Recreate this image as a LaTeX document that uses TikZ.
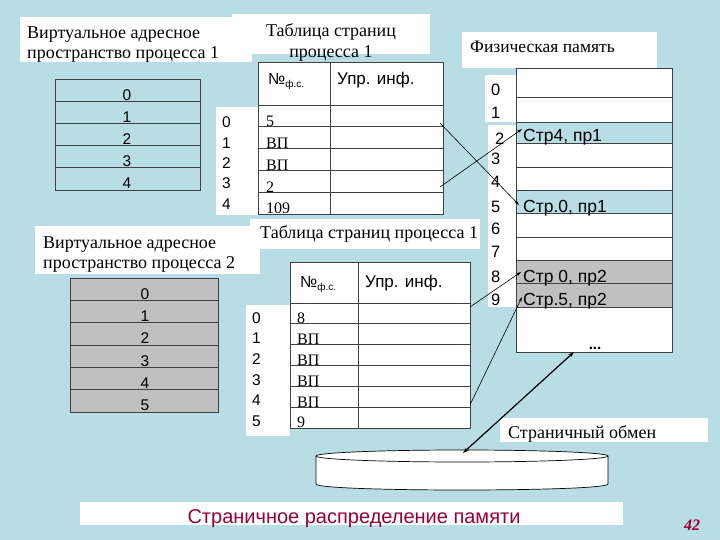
\documentclass[tikz,border=0pt]{standalone}
\usepackage{fontspec}
\setmainfont{Liberation Serif}
\setsansfont{Liberation Sans}
\usetikzlibrary{arrows.meta}
\definecolor{fon}{RGB}{185,221,228}
\definecolor{seryj}{RGB}{192,192,192}
\definecolor{bordo}{RGB}{153,0,51}
\newcommand{\nfs}{№{\fontsize{10}{11}\selectfont\raisebox{-3pt}{ф.с.}}}
\tikzset{
  belyj/.style={fill=white},
  setka/.style={draw=black!75,line width=0.7pt},
  tekst/.style={inner sep=0pt,anchor=base west,font=\fontsize{18}{20}\selectfont},
  cifra/.style={inner sep=0pt,anchor=base,font=\sffamily\fontsize{15.5}{17}\selectfont},
  shapka/.style={inner sep=0pt,anchor=base west,font=\sffamily\fontsize{17}{19}\selectfont},
  zapis/.style={inner sep=0pt,anchor=base west,font=\fontsize{16}{18}\selectfont},
  strelka/.style={-{Stealth[length=5pt,width=3pt]},line width=0.6pt},
  obmen/.style={{Stealth[length=6pt,width=4pt]}-{Stealth[length=6pt,width=4pt]},line width=1.2pt}
}
\begin{document}
\begin{tikzpicture}[x=1pt,y=-1pt]
\useasboundingbox (0,0) rectangle (720,540);
\fill[fon] (0,0) rectangle (720,540); %фон
% белые подложки надписей
\fill[belyj] (20,17) rectangle (252,62);
\fill[belyj] (232,14) rectangle (430,54);
\fill[belyj] (216,107) rectangle (258,215);
\fill[belyj] (462,32) rectangle (657,68);
\fill[belyj] (485,75) rectangle (517,122);
\fill[belyj] (488,125) rectangle (517,307);
\fill[belyj] (35,226) rectangle (260,274);
\fill[belyj] (250,219) rectangle (480,249);
\fill[belyj] (246,305) rectangle (290,436);
\fill[belyj] (500,418) rectangle (708,442);
\fill[belyj] (80,502) rectangle (623,525);
% виртуальное пространство процесса 1
\node[tekst] (va1a) at (27,39) {Виртуальное адресное};
\node[tekst] (va1b) at (27,59) {пространство процесса 1};
\foreach \i in {0,...,4} {
  \draw[setka] (55,{79+22.2*\i}) rectangle (200,{101.2+22.2*\i});
  \node[cifra] (v1-\i) at (127,{100.2+22.2*\i}) {\i};
}
% таблица страниц процесса 1
\node[tekst,anchor=base] (tp1a) at (331,37) {Таблица страниц};
\node[tekst,anchor=base] (tp1b) at (331,58) {процесса 1};
\draw[setka,fill=white] (258,62) rectangle (443,214);
\draw[setka] (330,62) -- (330,214);
\node[shapka,font=\sffamily\fontsize{16}{18}\selectfont] (h1a) at (268,85) {\nfs};
\node[shapka] (h1b) at (337,85) {Упр. инф.};
\foreach \v [count=\i from 0] in {5,ВП,ВП,2,109} {
  \draw[setka] (258,{105+21.8*\i}) -- (443,{105+21.8*\i});
  \node[zapis] (t1-\i) at (266,{126.8+21.8*\i}) {\v};
  \node[cifra,anchor=base west] (n1-\i) at (222,{128+20.3*\i}) {\i};
}
% физическая память
\node[tekst,font=\fontsize{17.5}{19}\selectfont] (fp) at (470,53) {Физическая память};
\draw[setka,fill=white] (516,68) rectangle (672,352);
\fill[fon] (516,122) rectangle (672,143);
\fill[fon] (516,190) rectangle (672,213);
\fill[seryj] (516,260) rectangle (672,307);
\foreach \y in {97,122,143,167,190,213,237,260,283,307}
  \draw[setka] (516,\y) -- (672,\y);
\draw[setka] (516,68) rectangle (672,352);
\foreach \i/\x/\y in {0/491/96,1/491/119,2/495/145,3/491/165,4/491/188,5/491/212,6/491/235,7/491/258,8/491/282,9/491/305}
  \node[cifra,anchor=base west,font=\sffamily\fontsize{16.5}{18}\selectfont] (f-\i) at (\x,\y) {\i};
\foreach \t/\y/\n in {Стр4{,} пр1/142/s2,Стр.0{,} пр1/212/s5,Стр 0{,} пр2/282/s8,Стр.5{,} пр2/305/s9}
  \node[shapka,font=\sffamily\fontsize{17.5}{19}\selectfont] (\n) at (523,\y) {\t};
\node[cifra,font=\sffamily\bfseries\fontsize{15}{17}\selectfont] (dots) at (595,349) {...};
% виртуальное пространство процесса 2
\node[tekst] (va2a) at (43,248) {Виртуальное адресное};
\node[tekst] (va2b) at (43,268) {пространство процесса 2};
\foreach \i in {0,...,5} {
  \draw[setka,fill=seryj] (70,{278+22.33*\i}) rectangle (218,{300.33+22.33*\i});
  \node[cifra] (v2-\i) at (145,{299.3+22.33*\i}) {\i};
}
% таблица страниц процесса 2
\node[tekst] (tp2) at (260,238) {Таблица страниц процесса 1};
\draw[setka,fill=white] (290,262) rectangle (470,428);
\draw[setka] (358,262) -- (358,428);
\node[shapka,font=\sffamily\fontsize{16}{18}\selectfont] (h2a) at (300,287) {\nfs};
\node[shapka] (h2b) at (365,287) {Упр. инф.};
\foreach \v [count=\i from 0] in {8,ВП,ВП,ВП,ВП,9} {
  \draw[setka] (290,{303+20.83*\i}) -- (470,{303+20.83*\i});
  \node[zapis] (t2-\i) at (297,{323.8+20.83*\i}) {\v};
  \node[cifra,anchor=base west] (n2-\i) at (252,{323+20.7*\i}) {\i};
}
% диск
\draw[line width=0.7pt,fill=white] (316,456) -- (316,484) .. controls (316,492) and (608,492) .. (608,484) -- (608,456);
\draw[line width=0.7pt,fill=white] (462,456) ellipse [x radius=146,y radius=6];
\node[tekst] (so) at (508,438) {Страничный обмен};
% подпись слайда
\node[cifra,font=\sffamily\fontsize{20}{22}\selectfont,text=bordo] (zag) at (354,523) {Страничное распределение памяти};
\node[cifra,anchor=base west,font=\bfseries\itshape\fontsize{16}{18}\selectfont,text=bordo] (nom) at (684,530) {42};
% стрелки
\coordinate (a0) at (440,123);
\coordinate (a3) at (440,187);
\coordinate (b0) at (470,307);
\coordinate (b5) at (470,405);
\coordinate (c2) at (522,129);
\coordinate (c5) at (519,205);
\coordinate (c8) at (521,272);
\coordinate (c9) at (522,297);
\coordinate (disk) at (463,453);
\coordinate (niz) at (574,352);
\draw[strelka] (a0) -- (c5);
\draw[strelka] (a3) -- (c2);
\draw[strelka] (b0) -- (c8);
\draw[strelka] (b5) -- (c9);
\draw[obmen] (disk) -- (niz);
\end{tikzpicture}
\end{document}
